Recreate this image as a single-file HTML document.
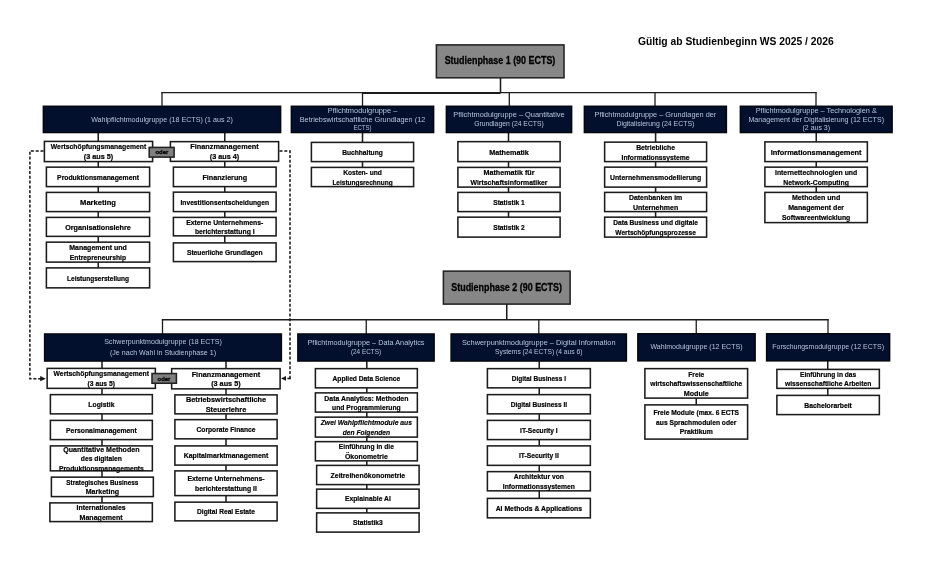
<!DOCTYPE html>
<html lang="de"><head><meta charset="utf-8"><title>Studienverlaufsplan</title>
<style>
html,body{margin:0;padding:0;background:#fff;}
body{width:940px;height:564px;overflow:hidden;}
svg{display:block;}
.tx{filter:contrast(1.0001);}
text{font-family:"Liberation Sans",sans-serif;text-anchor:middle;}
.b{font-size:7.8px;font-weight:bold;fill:#000;stroke:#000;stroke-width:.22px;}
.i{font-size:7.8px;font-weight:bold;font-style:italic;fill:#000;stroke:#000;stroke-width:.18px;}
.h{font-size:7.3px;fill:#b4c4dc;}
.r{font-size:10.3px;font-weight:bold;fill:#000;stroke:#000;stroke-width:.3px;}
.t{font-size:10.9px;font-weight:bold;fill:#000;}
.o{font-size:6.2px;font-weight:bold;fill:#000;stroke:#000;stroke-width:.3px;}
</style></head><body>
<svg width="940" height="564" viewBox="0 0 940 564">
<line x1="500.50" y1="77.00" x2="500.50" y2="92.50" stroke="#1c1c1c" stroke-width="1.55"/>
<line x1="161.30" y1="92.65" x2="816.70" y2="92.65" stroke="#1c1c1c" stroke-width="1.4"/>
<line x1="362.50" y1="92.95" x2="500.50" y2="92.95" stroke="#1c1c1c" stroke-width="1.9"/>
<line x1="162.00" y1="92.50" x2="162.00" y2="106.00" stroke="#1c1c1c" stroke-width="1.3"/>
<line x1="362.50" y1="92.50" x2="362.50" y2="106.00" stroke="#1c1c1c" stroke-width="1.3"/>
<line x1="509.30" y1="92.50" x2="509.30" y2="106.00" stroke="#1c1c1c" stroke-width="1.3"/>
<line x1="655.00" y1="92.50" x2="655.00" y2="106.00" stroke="#1c1c1c" stroke-width="1.3"/>
<line x1="816.00" y1="92.50" x2="816.00" y2="106.00" stroke="#1c1c1c" stroke-width="1.3"/>
<line x1="98.25" y1="132.00" x2="98.25" y2="268.00" stroke="#1c1c1c" stroke-width="1.55"/>
<line x1="224.75" y1="132.00" x2="224.75" y2="243.00" stroke="#1c1c1c" stroke-width="1.55"/>
<line x1="362.50" y1="132.00" x2="362.50" y2="168.00" stroke="#1c1c1c" stroke-width="1.55"/>
<line x1="508.50" y1="132.00" x2="508.50" y2="218.00" stroke="#1c1c1c" stroke-width="1.55"/>
<line x1="655.60" y1="132.00" x2="655.60" y2="218.00" stroke="#1c1c1c" stroke-width="1.55"/>
<line x1="816.25" y1="132.00" x2="816.25" y2="193.00" stroke="#1c1c1c" stroke-width="1.55"/>
<rect x="436.39" y="44.89" width="127.61" height="32.91" fill="#878787" stroke="#222" stroke-width="1.55"/>
<rect x="43.39" y="106.30" width="237.21" height="26.21" fill="#03102d" stroke="#05070f" stroke-width="1.55"/>
<rect x="291.39" y="106.30" width="142.21" height="26.21" fill="#03102d" stroke="#05070f" stroke-width="1.55"/>
<rect x="446.39" y="106.30" width="125.21" height="26.21" fill="#03102d" stroke="#05070f" stroke-width="1.55"/>
<rect x="584.39" y="106.30" width="141.96" height="26.21" fill="#03102d" stroke="#05070f" stroke-width="1.55"/>
<rect x="740.39" y="106.30" width="151.71" height="26.21" fill="#03102d" stroke="#05070f" stroke-width="1.55"/>
<rect x="44.39" y="141.40" width="108.21" height="20.21" fill="#fff" stroke="#1c1c1c" stroke-width="1.55"/>
<rect x="170.40" y="141.65" width="108.21" height="19.71" fill="#fff" stroke="#1c1c1c" stroke-width="1.55"/>
<rect x="149.20" y="147.40" width="24.91" height="9.71" fill="#7f7f7f" stroke="#222" stroke-width="1.55"/>
<rect x="46.39" y="167.15" width="103.21" height="19.46" fill="#fff" stroke="#1c1c1c" stroke-width="1.55"/>
<rect x="46.39" y="192.40" width="103.21" height="19.21" fill="#fff" stroke="#1c1c1c" stroke-width="1.55"/>
<rect x="46.39" y="217.40" width="103.21" height="18.96" fill="#fff" stroke="#1c1c1c" stroke-width="1.55"/>
<rect x="46.39" y="242.15" width="103.21" height="19.96" fill="#fff" stroke="#1c1c1c" stroke-width="1.55"/>
<rect x="46.39" y="267.89" width="103.21" height="19.96" fill="#fff" stroke="#1c1c1c" stroke-width="1.55"/>
<rect x="173.40" y="167.15" width="102.71" height="19.46" fill="#fff" stroke="#1c1c1c" stroke-width="1.55"/>
<rect x="173.40" y="192.15" width="102.71" height="19.46" fill="#fff" stroke="#1c1c1c" stroke-width="1.55"/>
<rect x="173.40" y="217.40" width="102.71" height="18.46" fill="#fff" stroke="#1c1c1c" stroke-width="1.55"/>
<rect x="173.40" y="242.90" width="102.71" height="18.71" fill="#fff" stroke="#1c1c1c" stroke-width="1.55"/>
<rect x="311.39" y="142.40" width="102.21" height="19.21" fill="#fff" stroke="#1c1c1c" stroke-width="1.55"/>
<rect x="311.39" y="167.40" width="102.21" height="19.21" fill="#fff" stroke="#1c1c1c" stroke-width="1.55"/>
<rect x="457.89" y="141.65" width="102.21" height="19.96" fill="#fff" stroke="#1c1c1c" stroke-width="1.55"/>
<rect x="457.89" y="167.40" width="102.21" height="19.71" fill="#fff" stroke="#1c1c1c" stroke-width="1.55"/>
<rect x="457.89" y="192.40" width="102.21" height="19.21" fill="#fff" stroke="#1c1c1c" stroke-width="1.55"/>
<rect x="457.89" y="217.15" width="102.21" height="19.96" fill="#fff" stroke="#1c1c1c" stroke-width="1.55"/>
<rect x="604.64" y="142.15" width="101.96" height="19.46" fill="#fff" stroke="#1c1c1c" stroke-width="1.55"/>
<rect x="604.64" y="167.15" width="101.96" height="19.96" fill="#fff" stroke="#1c1c1c" stroke-width="1.55"/>
<rect x="604.64" y="192.40" width="101.96" height="19.21" fill="#fff" stroke="#1c1c1c" stroke-width="1.55"/>
<rect x="604.64" y="217.15" width="101.96" height="19.96" fill="#fff" stroke="#1c1c1c" stroke-width="1.55"/>
<rect x="764.89" y="141.90" width="102.46" height="19.71" fill="#fff" stroke="#1c1c1c" stroke-width="1.55"/>
<rect x="764.89" y="167.15" width="102.46" height="19.46" fill="#fff" stroke="#1c1c1c" stroke-width="1.55"/>
<rect x="764.89" y="192.40" width="102.46" height="30.21" fill="#fff" stroke="#1c1c1c" stroke-width="1.55"/>
<line x1="506.75" y1="303.50" x2="506.75" y2="319.50" stroke="#1c1c1c" stroke-width="1.55"/>
<line x1="161.80" y1="319.70" x2="828.70" y2="319.70" stroke="#1c1c1c" stroke-width="1.5"/>
<line x1="162.50" y1="319.50" x2="162.50" y2="334.50" stroke="#1c1c1c" stroke-width="1.3"/>
<line x1="366.25" y1="319.50" x2="366.25" y2="334.50" stroke="#1c1c1c" stroke-width="1.3"/>
<line x1="538.80" y1="319.50" x2="538.80" y2="334.50" stroke="#1c1c1c" stroke-width="1.3"/>
<line x1="696.25" y1="319.50" x2="696.25" y2="334.50" stroke="#1c1c1c" stroke-width="1.3"/>
<line x1="828.00" y1="319.50" x2="828.00" y2="334.50" stroke="#1c1c1c" stroke-width="1.3"/>
<line x1="102.00" y1="360.00" x2="102.00" y2="503.00" stroke="#1c1c1c" stroke-width="1.55"/>
<line x1="226.00" y1="360.00" x2="226.00" y2="502.00" stroke="#1c1c1c" stroke-width="1.55"/>
<line x1="366.80" y1="360.00" x2="366.80" y2="513.00" stroke="#1c1c1c" stroke-width="1.55"/>
<line x1="539.25" y1="360.00" x2="539.25" y2="499.00" stroke="#1c1c1c" stroke-width="1.55"/>
<line x1="696.25" y1="398.00" x2="696.25" y2="405.00" stroke="#1c1c1c" stroke-width="1.55"/>
<line x1="827.75" y1="360.00" x2="827.75" y2="396.00" stroke="#1c1c1c" stroke-width="1.55"/>
<rect x="443.39" y="271.14" width="126.71" height="32.96" fill="#878787" stroke="#222" stroke-width="1.55"/>
<rect x="44.64" y="334.00" width="236.71" height="27.01" fill="#03102d" stroke="#05070f" stroke-width="1.55"/>
<rect x="297.89" y="334.00" width="136.21" height="27.01" fill="#03102d" stroke="#05070f" stroke-width="1.55"/>
<rect x="451.14" y="334.00" width="175.21" height="27.01" fill="#03102d" stroke="#05070f" stroke-width="1.55"/>
<rect x="637.89" y="333.79" width="117.21" height="27.01" fill="#03102d" stroke="#05070f" stroke-width="1.55"/>
<rect x="766.64" y="333.79" width="122.96" height="27.01" fill="#03102d" stroke="#05070f" stroke-width="1.55"/>
<rect x="47.14" y="368.39" width="108.21" height="19.96" fill="#fff" stroke="#1c1c1c" stroke-width="1.55"/>
<rect x="171.65" y="368.64" width="108.46" height="20.21" fill="#fff" stroke="#1c1c1c" stroke-width="1.55"/>
<rect x="152.00" y="373.54" width="24.41" height="9.71" fill="#7f7f7f" stroke="#222" stroke-width="1.55"/>
<rect x="50.39" y="394.64" width="101.96" height="19.21" fill="#fff" stroke="#1c1c1c" stroke-width="1.55"/>
<rect x="50.39" y="420.39" width="101.96" height="19.21" fill="#fff" stroke="#1c1c1c" stroke-width="1.55"/>
<rect x="50.39" y="445.89" width="101.96" height="24.96" fill="#fff" stroke="#1c1c1c" stroke-width="1.55"/>
<rect x="51.39" y="477.14" width="101.96" height="19.46" fill="#fff" stroke="#1c1c1c" stroke-width="1.55"/>
<rect x="49.89" y="502.89" width="102.46" height="18.71" fill="#fff" stroke="#1c1c1c" stroke-width="1.55"/>
<rect x="174.90" y="394.89" width="102.21" height="18.96" fill="#fff" stroke="#1c1c1c" stroke-width="1.55"/>
<rect x="174.90" y="419.64" width="102.21" height="19.21" fill="#fff" stroke="#1c1c1c" stroke-width="1.55"/>
<rect x="174.90" y="445.89" width="102.21" height="19.21" fill="#fff" stroke="#1c1c1c" stroke-width="1.55"/>
<rect x="174.90" y="470.89" width="102.21" height="24.71" fill="#fff" stroke="#1c1c1c" stroke-width="1.55"/>
<rect x="174.90" y="502.14" width="102.21" height="18.71" fill="#fff" stroke="#1c1c1c" stroke-width="1.55"/>
<rect x="315.39" y="368.64" width="101.96" height="19.21" fill="#fff" stroke="#1c1c1c" stroke-width="1.55"/>
<rect x="315.39" y="392.89" width="101.96" height="19.21" fill="#fff" stroke="#1c1c1c" stroke-width="1.55"/>
<rect x="315.39" y="417.14" width="101.96" height="19.96" fill="#fff" stroke="#1c1c1c" stroke-width="1.55"/>
<rect x="315.39" y="441.64" width="101.96" height="19.21" fill="#fff" stroke="#1c1c1c" stroke-width="1.55"/>
<rect x="316.64" y="465.39" width="102.46" height="19.21" fill="#fff" stroke="#1c1c1c" stroke-width="1.55"/>
<rect x="316.64" y="489.14" width="102.46" height="19.21" fill="#fff" stroke="#1c1c1c" stroke-width="1.55"/>
<rect x="316.64" y="512.89" width="102.46" height="19.21" fill="#fff" stroke="#1c1c1c" stroke-width="1.55"/>
<rect x="487.39" y="368.64" width="102.96" height="19.21" fill="#fff" stroke="#1c1c1c" stroke-width="1.55"/>
<rect x="487.39" y="394.64" width="102.96" height="19.21" fill="#fff" stroke="#1c1c1c" stroke-width="1.55"/>
<rect x="487.39" y="420.39" width="102.96" height="19.21" fill="#fff" stroke="#1c1c1c" stroke-width="1.55"/>
<rect x="487.39" y="445.89" width="102.96" height="19.46" fill="#fff" stroke="#1c1c1c" stroke-width="1.55"/>
<rect x="487.39" y="471.64" width="102.96" height="19.21" fill="#fff" stroke="#1c1c1c" stroke-width="1.55"/>
<rect x="487.39" y="498.39" width="102.96" height="19.46" fill="#fff" stroke="#1c1c1c" stroke-width="1.55"/>
<rect x="644.89" y="368.64" width="102.71" height="29.46" fill="#fff" stroke="#1c1c1c" stroke-width="1.55"/>
<rect x="644.89" y="404.89" width="102.71" height="34.21" fill="#fff" stroke="#1c1c1c" stroke-width="1.55"/>
<rect x="776.89" y="369.39" width="102.46" height="18.96" fill="#fff" stroke="#1c1c1c" stroke-width="1.55"/>
<rect x="776.89" y="395.39" width="102.46" height="19.21" fill="#fff" stroke="#1c1c1c" stroke-width="1.55"/>
<polyline points="43.5,151 29.9,151 29.9,378.7 41.5,378.7" fill="none" stroke="#151515" stroke-width="1.5" stroke-dasharray="3 1.8"/>
<polygon points="45.8,378.7 40.2,376.1 40.2,381.3" fill="#151515"/>
<polyline points="279.5,151.1 290,151.1 290,379.2" fill="none" stroke="#151515" stroke-width="1.5" stroke-dasharray="3 1.8"/>
<line x1="290.8" y1="378.5" x2="287.4" y2="378.5" stroke="#151515" stroke-width="1.6"/>
<polygon points="281,378.4 286,376 286,380.8" fill="#151515"/>
<g class="tx">
<text class="t" x="735.80" y="45.40" textLength="195.81" lengthAdjust="spacingAndGlyphs">Gültig ab Studienbeginn WS 2025 / 2026</text>
<text class="r" x="500.00" y="63.90" textLength="110.66" lengthAdjust="spacingAndGlyphs">Studienphase 1 (90 ECTS)</text>
<text class="h" x="162.00" y="121.50" textLength="141.64" lengthAdjust="spacingAndGlyphs">Wahlpflichtmodulgruppe (18 ECTS) (1 aus 2)</text>
<text class="h" x="362.50" y="112.90" textLength="69.62" lengthAdjust="spacingAndGlyphs">Pflichtmodulgruppe –</text>
<text class="h" x="362.50" y="121.50" textLength="125.56" lengthAdjust="spacingAndGlyphs">Betriebswirtschaftliche Grundlagen (12</text>
<text class="h" x="362.50" y="130.10" textLength="17.92" lengthAdjust="spacingAndGlyphs">ECTS)</text>
<text class="h" x="509.00" y="117.30" textLength="111.37" lengthAdjust="spacingAndGlyphs">Pflichtmodulgruppe – Quantitative</text>
<text class="h" x="509.00" y="125.70" textLength="69.61" lengthAdjust="spacingAndGlyphs">Grundlagen (24 ECTS)</text>
<text class="h" x="655.38" y="117.30" textLength="121.74" lengthAdjust="spacingAndGlyphs">Pflichtmodulgruppe – Grundlagen der</text>
<text class="h" x="655.38" y="125.70" textLength="77.90" lengthAdjust="spacingAndGlyphs">Digitalisierung (24 ECTS)</text>
<text class="h" x="816.25" y="112.80" textLength="121.25" lengthAdjust="spacingAndGlyphs">Pflichtmodulgruppe – Technologien &amp;</text>
<text class="h" x="816.25" y="121.50" textLength="135.54" lengthAdjust="spacingAndGlyphs">Management der Digitalisierung (12 ECTS)</text>
<text class="h" x="816.25" y="130.20" textLength="27.50" lengthAdjust="spacingAndGlyphs">(2 aus 3)</text>
<text class="b" x="98.50" y="149.38" textLength="95.36" lengthAdjust="spacingAndGlyphs">Wertschöpfungsmanagement</text>
<text class="b" x="98.50" y="159.23" textLength="29.51" lengthAdjust="spacingAndGlyphs">(3 aus 5)</text>
<text class="b" x="224.50" y="149.38" textLength="68.47" lengthAdjust="spacingAndGlyphs">Finanzmanagement</text>
<text class="b" x="224.50" y="159.23" textLength="29.51" lengthAdjust="spacingAndGlyphs">(3 aus 4)</text>
<text class="o" x="161.90" y="154.20" textLength="12.76" lengthAdjust="spacingAndGlyphs">oder</text>
<text class="b" x="98.00" y="180.07" textLength="81.81" lengthAdjust="spacingAndGlyphs">Produktionsmanagement</text>
<text class="b" x="98.00" y="205.20" textLength="35.80" lengthAdjust="spacingAndGlyphs">Marketing</text>
<text class="b" x="98.00" y="230.07" textLength="65.65" lengthAdjust="spacingAndGlyphs">Organisationslehre</text>
<text class="b" x="98.00" y="250.00" textLength="57.51" lengthAdjust="spacingAndGlyphs">Management und</text>
<text class="b" x="98.00" y="259.85" textLength="56.26" lengthAdjust="spacingAndGlyphs">Entrepreneurship</text>
<text class="b" x="98.00" y="281.08" textLength="61.96" lengthAdjust="spacingAndGlyphs">Leistungserstellung</text>
<text class="b" x="224.75" y="180.07" textLength="44.63" lengthAdjust="spacingAndGlyphs">Finanzierung</text>
<text class="b" x="224.75" y="205.07" textLength="88.55" lengthAdjust="spacingAndGlyphs">Investitionsentscheidungen</text>
<text class="b" x="224.75" y="224.50" textLength="77.14" lengthAdjust="spacingAndGlyphs">Externe Unternehmens-</text>
<text class="b" x="224.75" y="234.35" textLength="59.70" lengthAdjust="spacingAndGlyphs">berichterstattung I</text>
<text class="b" x="224.75" y="255.45" textLength="75.68" lengthAdjust="spacingAndGlyphs">Steuerliche Grundlagen</text>
<text class="b" x="362.50" y="155.20" textLength="40.63" lengthAdjust="spacingAndGlyphs">Buchhaltung</text>
<text class="b" x="362.50" y="174.88" textLength="38.69" lengthAdjust="spacingAndGlyphs">Kosten- und</text>
<text class="b" x="362.50" y="184.73" textLength="60.21" lengthAdjust="spacingAndGlyphs">Leistungsrechnung</text>
<text class="b" x="509.00" y="154.82" textLength="39.74" lengthAdjust="spacingAndGlyphs">Mathematik</text>
<text class="b" x="509.00" y="175.12" textLength="50.90" lengthAdjust="spacingAndGlyphs">Mathematik für</text>
<text class="b" x="509.00" y="184.98" textLength="77.00" lengthAdjust="spacingAndGlyphs">Wirtschaftsinformatiker</text>
<text class="b" x="509.00" y="205.20" textLength="31.63" lengthAdjust="spacingAndGlyphs">Statistik 1</text>
<text class="b" x="509.00" y="230.32" textLength="31.63" lengthAdjust="spacingAndGlyphs">Statistik 2</text>
<text class="b" x="655.62" y="149.75" textLength="38.86" lengthAdjust="spacingAndGlyphs">Betriebliche</text>
<text class="b" x="655.62" y="159.60" textLength="68.01" lengthAdjust="spacingAndGlyphs">Informationssysteme</text>
<text class="b" x="655.62" y="180.32" textLength="91.31" lengthAdjust="spacingAndGlyphs">Unternehmensmodellierung</text>
<text class="b" x="655.62" y="199.88" textLength="53.17" lengthAdjust="spacingAndGlyphs">Datenbanken im</text>
<text class="b" x="655.62" y="209.73" textLength="45.15" lengthAdjust="spacingAndGlyphs">Unternehmen</text>
<text class="b" x="655.62" y="225.00" textLength="84.76" lengthAdjust="spacingAndGlyphs">Data Business und digitale</text>
<text class="b" x="655.62" y="234.85" textLength="80.54" lengthAdjust="spacingAndGlyphs">Wertschöpfungsprozesse</text>
<text class="b" x="816.12" y="154.95" textLength="90.95" lengthAdjust="spacingAndGlyphs">Informationsmanagement</text>
<text class="b" x="816.12" y="174.75" textLength="82.28" lengthAdjust="spacingAndGlyphs">Internettechnologien und</text>
<text class="b" x="816.12" y="184.60" textLength="65.61" lengthAdjust="spacingAndGlyphs">Network-Computing</text>
<text class="b" x="816.12" y="200.45" textLength="48.27" lengthAdjust="spacingAndGlyphs">Methoden und</text>
<text class="b" x="816.12" y="210.30" textLength="55.84" lengthAdjust="spacingAndGlyphs">Management der</text>
<text class="b" x="816.12" y="220.15" textLength="68.32" lengthAdjust="spacingAndGlyphs">Softwareentwicklung</text>
<text class="r" x="506.60" y="290.60" textLength="110.66" lengthAdjust="spacingAndGlyphs">Studienphase 2 (90 ECTS)</text>
<text class="h" x="163.00" y="343.75" textLength="117.70" lengthAdjust="spacingAndGlyphs">Schwerpunktmodulgruppe (18 ECTS)</text>
<text class="h" x="163.00" y="355.45" textLength="106.04" lengthAdjust="spacingAndGlyphs">(Je nach Wahl in Studienphase 1)</text>
<text class="h" x="366.00" y="345.40" textLength="117.04" lengthAdjust="spacingAndGlyphs">Pflichtmodulgruppe – Data Analytics</text>
<text class="h" x="366.00" y="353.80" textLength="30.16" lengthAdjust="spacingAndGlyphs">(24 ECTS)</text>
<text class="h" x="538.75" y="345.00" textLength="153.65" lengthAdjust="spacingAndGlyphs">Schwerpunktmodulgruppe – Digital Information</text>
<text class="h" x="538.75" y="354.20" textLength="87.27" lengthAdjust="spacingAndGlyphs">Systems (24 ECTS) (4 aus 6)</text>
<text class="h" x="696.50" y="349.40" textLength="92.12" lengthAdjust="spacingAndGlyphs">Wahlmodulgruppe (12 ECTS)</text>
<text class="h" x="828.12" y="349.40" textLength="111.69" lengthAdjust="spacingAndGlyphs">Forschungsmodulgruppe (12 ECTS)</text>
<text class="b" x="101.25" y="376.40" textLength="95.36" lengthAdjust="spacingAndGlyphs">Wertschöpfungsmanagement</text>
<text class="b" x="101.25" y="385.95" textLength="27.37" lengthAdjust="spacingAndGlyphs">(3 aus 5)</text>
<text class="b" x="225.88" y="376.78" textLength="68.47" lengthAdjust="spacingAndGlyphs">Finanzmanagement</text>
<text class="b" x="225.88" y="386.32" textLength="29.51" lengthAdjust="spacingAndGlyphs">(3 aus 5)</text>
<text class="o" x="164.00" y="380.60" textLength="12.76" lengthAdjust="spacingAndGlyphs">oder</text>
<text class="b" x="101.38" y="406.85" textLength="26.15" lengthAdjust="spacingAndGlyphs">Logistik</text>
<text class="b" x="101.38" y="432.60" textLength="70.57" lengthAdjust="spacingAndGlyphs">Personalmanagement</text>
<text class="b" x="101.38" y="451.62" textLength="76.22" lengthAdjust="spacingAndGlyphs">Quantitative Methoden</text>
<text class="b" x="101.38" y="461.18" textLength="41.10" lengthAdjust="spacingAndGlyphs">des digitalen</text>
<text class="b" x="101.38" y="470.73" textLength="84.91" lengthAdjust="spacingAndGlyphs">Produktionsmanagements</text>
<text class="b" x="102.38" y="484.90" textLength="72.02" lengthAdjust="spacingAndGlyphs">Strategisches Business</text>
<text class="b" x="102.38" y="494.45" textLength="33.21" lengthAdjust="spacingAndGlyphs">Marketing</text>
<text class="b" x="101.12" y="510.27" textLength="49.09" lengthAdjust="spacingAndGlyphs">Internationales</text>
<text class="b" x="101.12" y="519.82" textLength="43.22" lengthAdjust="spacingAndGlyphs">Management</text>
<text class="b" x="226.00" y="402.40" textLength="80.13" lengthAdjust="spacingAndGlyphs">Betriebswirtschaftliche</text>
<text class="b" x="226.00" y="411.95" textLength="40.59" lengthAdjust="spacingAndGlyphs">Steuerlehre</text>
<text class="b" x="226.00" y="431.85" textLength="58.91" lengthAdjust="spacingAndGlyphs">Corporate Finance</text>
<text class="b" x="226.00" y="458.10" textLength="84.54" lengthAdjust="spacingAndGlyphs">Kapitalmarktmanagement</text>
<text class="b" x="226.00" y="481.28" textLength="77.14" lengthAdjust="spacingAndGlyphs">Externe Unternehmens-</text>
<text class="b" x="226.00" y="490.82" textLength="61.77" lengthAdjust="spacingAndGlyphs">berichterstattung II</text>
<text class="b" x="226.00" y="514.10" textLength="57.96" lengthAdjust="spacingAndGlyphs">Digital Real Estate</text>
<text class="b" x="366.38" y="380.85" textLength="67.74" lengthAdjust="spacingAndGlyphs">Applied Data Science</text>
<text class="b" x="366.38" y="400.53" textLength="84.06" lengthAdjust="spacingAndGlyphs">Data Analytics: Methoden</text>
<text class="b" x="366.38" y="410.07" textLength="68.69" lengthAdjust="spacingAndGlyphs">und Programmierung</text>
<text class="i" x="366.38" y="425.15" textLength="91.33" lengthAdjust="spacingAndGlyphs">Zwei Wahlpflichtmodule aus</text>
<text class="i" x="366.38" y="434.70" textLength="47.32" lengthAdjust="spacingAndGlyphs">den Folgenden</text>
<text class="b" x="366.38" y="449.28" textLength="55.06" lengthAdjust="spacingAndGlyphs">Einführung in die</text>
<text class="b" x="366.38" y="458.82" textLength="42.80" lengthAdjust="spacingAndGlyphs">Ökonometrie</text>
<text class="b" x="367.88" y="477.60" textLength="74.62" lengthAdjust="spacingAndGlyphs">Zeitreihenökonometrie</text>
<text class="b" x="367.88" y="501.35" textLength="45.77" lengthAdjust="spacingAndGlyphs">Explainable AI</text>
<text class="b" x="367.88" y="525.10" textLength="29.87" lengthAdjust="spacingAndGlyphs">Statistik3</text>
<text class="b" x="538.88" y="380.85" textLength="54.23" lengthAdjust="spacingAndGlyphs">Digital Business I</text>
<text class="b" x="538.88" y="406.85" textLength="56.30" lengthAdjust="spacingAndGlyphs">Digital Business II</text>
<text class="b" x="538.88" y="432.60" textLength="37.69" lengthAdjust="spacingAndGlyphs">IT-Security I</text>
<text class="b" x="538.88" y="458.23" textLength="39.77" lengthAdjust="spacingAndGlyphs">IT-Security II</text>
<text class="b" x="538.88" y="479.28" textLength="50.29" lengthAdjust="spacingAndGlyphs">Architektur von</text>
<text class="b" x="538.88" y="488.82" textLength="72.19" lengthAdjust="spacingAndGlyphs">Informationssystemen</text>
<text class="b" x="538.88" y="510.73" textLength="86.42" lengthAdjust="spacingAndGlyphs">AI Methods &amp; Applications</text>
<text class="b" x="696.25" y="376.62" textLength="15.99" lengthAdjust="spacingAndGlyphs">Freie</text>
<text class="b" x="696.25" y="386.18" textLength="91.97" lengthAdjust="spacingAndGlyphs">wirtschaftswissenschaftliche</text>
<text class="b" x="696.25" y="395.73" textLength="25.16" lengthAdjust="spacingAndGlyphs">Module</text>
<text class="b" x="696.25" y="415.25" textLength="85.63" lengthAdjust="spacingAndGlyphs">Freie Module (max. 6 ECTS</text>
<text class="b" x="696.25" y="424.80" textLength="80.26" lengthAdjust="spacingAndGlyphs">aus Sprachmodulen oder</text>
<text class="b" x="696.25" y="434.35" textLength="32.97" lengthAdjust="spacingAndGlyphs">Praktikum</text>
<text class="b" x="828.12" y="376.90" textLength="56.18" lengthAdjust="spacingAndGlyphs">Einführung in das</text>
<text class="b" x="828.12" y="386.45" textLength="86.39" lengthAdjust="spacingAndGlyphs">wissenschaftliche Arbeiten</text>
<text class="b" x="828.12" y="407.60" textLength="47.54" lengthAdjust="spacingAndGlyphs">Bachelorarbeit</text>
</g>
</svg>
</body></html>
